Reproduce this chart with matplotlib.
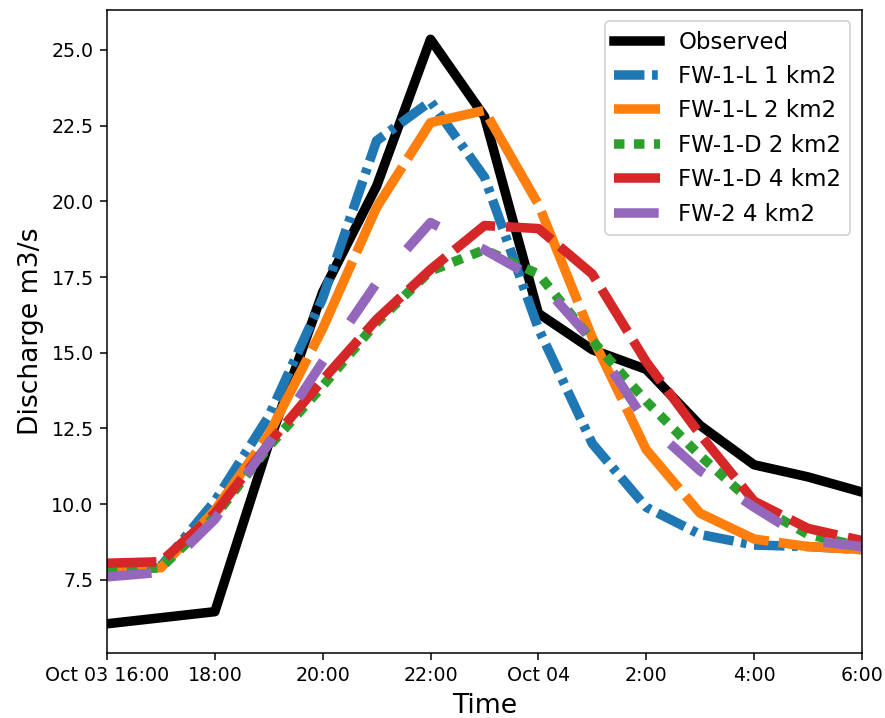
'''
 Discharge hydrograph: observed flow against the FW model runs
'''
import matplotlib
matplotlib.use('Agg')
import matplotlib.pyplot as plt   # Plotting library
import pandas as pd               # Used for the hourly time axis

# Hourly time steps of the event
times = pd.date_range('2019-10-03 16:00', periods=15, freq='h')

# Discharge values (m3/s)
observed  = [6.05, 6.25, 6.45, 12.0, 17.0, 20.5, 25.35, 22.8, 16.3, 15.1, 14.45, 12.6, 11.3, 10.9, 10.4]
fw1l_1km2 = [7.9, 7.95, 10.1, 12.9, 16.8, 22.0, 23.3, 20.8, 15.8, 12.0, 9.9, 9.0, 8.65, 8.6, 8.5]
fw1l_2km2 = [7.85, 7.9, 9.8, 12.3, 15.8, 19.8, 22.6, 23.0, 19.9, 15.5, 11.8, 9.7, 8.85, 8.6, 8.5]
fw1d_2km2 = [7.8, 7.9, 9.6, 11.9, 13.9, 16.0, 17.7, 18.4, 17.6, 15.4, 13.4, 11.6, 10.0, 9.0, 8.6]
fw1d_4km2 = [8.05, 8.1, 9.7, 12.0, 14.1, 16.1, 17.75, 19.2, 19.1, 17.6, 14.7, 12.3, 10.1, 9.2, 8.8]
fw2_4km2  = [7.6, 7.75, 9.5, 12.0, 14.7, 17.3, 19.3, 18.4, 17.4, 15.4, 12.7, 11.1, 9.9, 8.8, 8.6]

# Tick positions and labels of the time axis
tick_times = pd.date_range('2019-10-03 16:00', '2019-10-04 06:00', freq='2h')
tick_labels = ['Oct 03 16:00', '18:00', '20:00', '22:00', 'Oct 04', '2:00', '4:00', '6:00']

# Dictionary with the series and how to draw them
plot_dic = {
	'Observed'      : {'data': observed,  'color': 'black',   'dashes': None},
	'FW-1-L 1 km2'  : {'data': fw1l_1km2, 'color': '#1f77b4', 'dashes': (3.2, 0.8, 0.6, 0.8)},
	'FW-1-L 2 km2'  : {'data': fw1l_2km2, 'color': '#ff7f0e', 'dashes': (10.2, 1.05)},
	'FW-1-D 2 km2'  : {'data': fw1d_2km2, 'color': '#2ca02c', 'dashes': (1.1, 1.0)},
	'FW-1-D 4 km2'  : {'data': fw1d_4km2, 'color': '#d62728', 'dashes': (5.2, 1.15)},
	'FW-2 4 km2'    : {'data': fw2_4km2,  'color': '#9467bd', 'dashes': (4.7, 5.0)},
}

fig = plt.figure(figsize=(885/137, 718/137), dpi=137)  # Figure of the graph
ax = fig.add_axes([0.1209, 0.0905, 0.853, 0.8955])      # Canvas of the graph

# One curve per loop
for name in plot_dic.keys():
	data = plot_dic[name]
	if data['dashes'] is None:
		ax.plot(times, data['data'], color=data['color'], linewidth=5, label=name)
	else:
		ax.plot(times, data['data'], color=data['color'], linewidth=5,
				dashes=data['dashes'], label=name)

ax.set_xlim(times[0], times[-1])                 # Sets the X limits
ax.set_xticks(tick_times)                        # Ticks every two hours
ax.set_xticklabels(tick_labels, fontsize=10)     # Ticks labels
ax.tick_params(axis='y', labelsize=10)

ax.set_xlabel('Time', fontsize=14)               # Sets the X label
ax.set_ylabel('Discharge m3/s', fontsize=14)     # Sets the Y label
ax.legend(loc='upper right', fontsize=12)        # Legend of the graph

fig.savefig('out.png', dpi=137)
